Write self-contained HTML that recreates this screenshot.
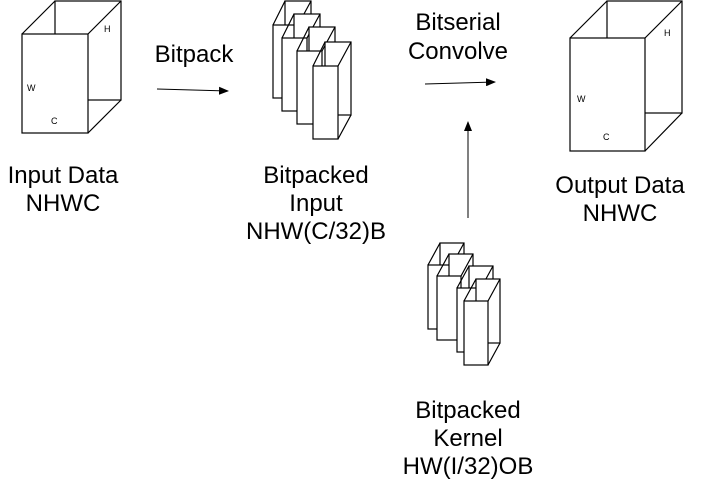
<!DOCTYPE html>
<html><head><style>
html,body{margin:0;padding:0;background:#fff;width:705px;height:485px;overflow:hidden}
svg{display:block}
text{font-family:"Liberation Sans",Arial,sans-serif;fill:#000}
</style></head><body>
<svg width="705" height="485" viewBox="0 0 705 485" xmlns="http://www.w3.org/2000/svg">
<defs>
<marker id="ah" markerWidth="10" markerHeight="8" refX="9" refY="4" orient="auto" markerUnits="userSpaceOnUse">
<path d="M0,0 L10,4 L0,8 z" fill="#000"/></marker>
<g id="slab" fill="#fff" stroke="#000" stroke-width="1.2">
<rect x="12" y="-24" width="26" height="73"/>
<path d="M0,0 L12,-24 M25,0 L38,-24 M25,73 L38,49"/>
<rect x="0" y="0" width="25" height="73"/>
</g>
<g id="kslab" fill="#fff" stroke="#000" stroke-width="1.2">
<rect x="12" y="-22" width="24" height="64"/>
<path d="M0,0 L12,-22 M24,0 L36,-22 M24,64 L36,42"/>
<rect x="0" y="0" width="24" height="64"/>
</g>
</defs>
<g fill="#fff" stroke="#000" stroke-width="1.2">
<rect x="55" y="1" width="66" height="99"/>
<path d="M22,34 L55,1 M88,34 L121,1 M88,133 L121,100"/>
<rect x="22" y="34" width="66" height="99"/>
<rect x="607" y="1" width="75" height="112"/>
<path d="M570,38 L607,1 M645,38 L682,1 M645,151 L682,113"/>
<rect x="570" y="38" width="75" height="113"/>
</g>
<text x="104" y="32" font-size="9">H</text>
<text x="27" y="91" font-size="9">W</text>
<text x="51" y="124" font-size="9">C</text>
<text x="664" y="36" font-size="9">H</text>
<text x="577" y="102" font-size="9">W</text>
<text x="603" y="140" font-size="9">C</text>
<use href="#slab" x="273" y="25"/>
<use href="#slab" x="282" y="38"/>
<use href="#slab" x="297" y="51"/>
<use href="#slab" x="313" y="66"/>
<use href="#kslab" x="428" y="265"/>
<use href="#kslab" x="437" y="276"/>
<use href="#kslab" x="457" y="288"/>
<use href="#kslab" x="464" y="301"/>
<g stroke="#000" stroke-width="1" marker-end="url(#ah)">
<line x1="157" y1="89" x2="228" y2="91"/>
<line x1="425" y1="84" x2="495" y2="82"/>
<line x1="468" y1="218" x2="468" y2="122"/>
</g>
<g font-size="24" text-anchor="middle">
<text x="194" y="62">Bitpack</text>
<text x="458" y="30">Bitserial</text>
<text x="458" y="59">Convolve</text>
<text x="63" y="183">Input Data</text>
<text x="63" y="211">NHWC</text>
<text x="316" y="183">Bitpacked</text>
<text x="316" y="211">Input</text>
<text x="316" y="239">NHW(C/32)B</text>
<text x="620" y="193">Output Data</text>
<text x="620" y="221">NHWC</text>
<text x="468" y="418">Bitpacked</text>
<text x="468" y="446">Kernel</text>
<text x="468" y="474">HW(I/32)OB</text>
</g>
</svg>
</body></html>
